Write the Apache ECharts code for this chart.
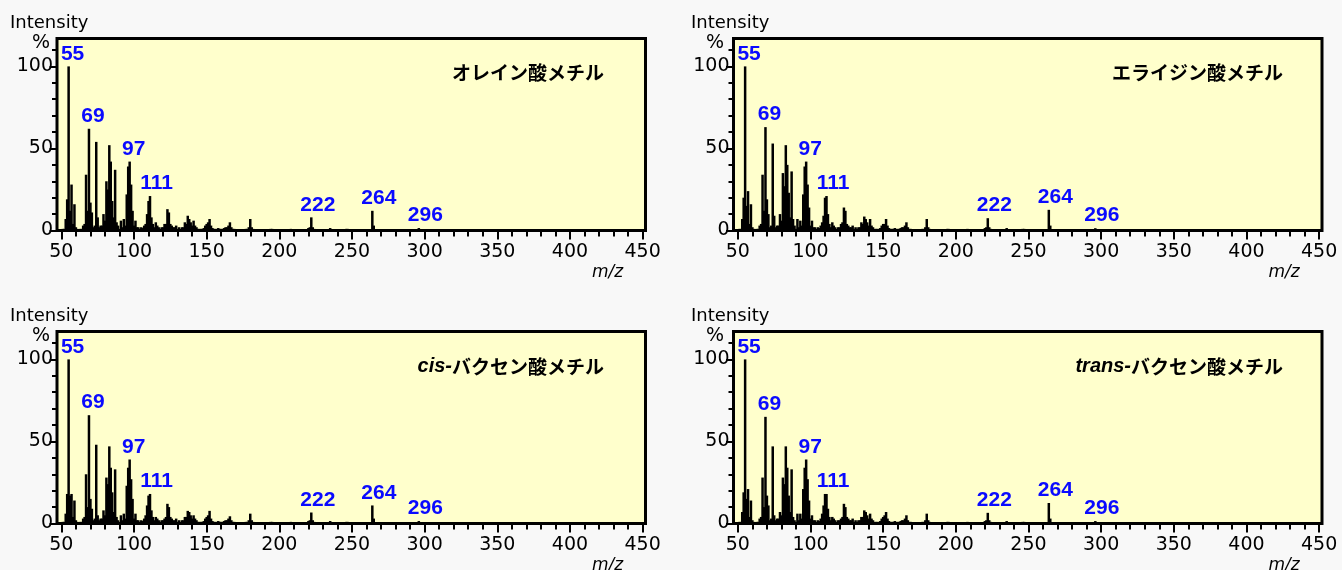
<!DOCTYPE html>
<html>
<head>
<meta charset="utf-8">
<title>脂肪酸メチル マススペクトル</title>
<script src="https://cdn.jsdelivr.net/npm/echarts@6/dist/echarts.min.js"></script>
<style>
  html, body { margin: 0; padding: 0; background: #f8f8f8; }
  #main { width: 1342px; height: 570px; }
</style>
</head>
<body>
<div id="main"></div>
<script>
// m/z of every stick (shared by the four spectra)
const mzList = [
  50, 51, 52, 53, 54, 55, 56, 57, 58, 59,
  60, 61, 62, 63, 64, 65, 66, 67, 68, 69,
  70, 71, 72, 73, 74, 75, 76, 77, 78, 79,
  80, 81, 82, 83, 84, 85, 86, 87, 88, 89,
  90, 91, 92, 93, 94, 95, 96, 97, 98, 99,
  100, 101, 102, 103, 104, 105, 106, 107, 108, 109,
  110, 111, 112, 113, 114, 115, 116, 117, 118, 119,
  120, 121, 122, 123, 124, 125, 126, 127, 128, 129,
  130, 131, 132, 133, 134, 135, 136, 137, 138, 139,
  140, 141, 142, 143, 144, 145, 146, 147, 148, 149,
  150, 151, 152, 153, 154, 155, 156, 157, 158, 159,
  160, 161, 162, 163, 164, 165, 166, 167, 168, 169,
  177, 178, 179, 180, 181, 182, 185, 191, 194, 195,
  198, 205, 208, 209, 213, 220, 221, 222, 223, 224,
  235, 236, 246, 247, 250, 264, 265, 266, 296, 297
];

// relative intensity (%)
const oleate = [
  0.5, 1, 1, 7, 19, 100, 12, 28, 4, 16,
  2, 1, 0.5, 1, 1, 3, 4, 34, 12, 62,
  17, 11, 2, 3, 54, 8, 2, 3, 3, 10,
  6, 30, 25, 52, 42, 18, 8, 37, 5, 3,
  1, 6, 2, 7, 3, 22, 39, 42, 28, 12,
  3, 6, 2, 2, 1, 2, 1.5, 3, 4, 10,
  18, 21, 8, 4, 2, 5, 3, 2, 1, 2,
  2, 4, 4, 13, 11, 4, 3, 2, 2, 3,
  1, 2, 1, 2, 2, 5, 4, 9, 7, 5,
  3, 6, 3, 2, 1, 1, 1, 1, 1.5, 3,
  4, 5, 7, 3, 1.5, 1, 1, 1, 1.5, 1,
  1, 1, 1.5, 2, 2, 3, 5, 2, 1, 1,
  1, 1, 2, 7, 2, 1, 0.5, 0.5, 1, 1,
  0.5, 0.5, 1, 0.5, 0.5, 1.5, 2, 8, 2, 1,
  1.5, 0.5, 1, 1, 0.5, 12, 3, 0.5, 1.5, 0.3
];
const elaidate = [
  0.5, 1, 1, 7, 20, 100, 15, 24, 4, 16,
  2, 1, 0.5, 1, 1, 3, 4, 34, 12, 63,
  19, 10, 2, 3, 53, 9, 2, 3, 3, 10,
  6, 35, 27, 52, 40, 23, 8, 36, 7, 3,
  1, 7, 2, 6, 3, 22, 39, 42, 28, 14,
  3, 6, 2, 2, 1, 2, 1.5, 3, 5, 9,
  20, 21, 10, 4, 2, 5, 3, 2, 1, 2,
  2, 4, 5, 14, 12, 4, 3, 2, 2, 3,
  1, 2, 1, 2, 2, 5, 4, 8.5, 7, 5,
  3, 7, 3, 2, 1, 1, 1, 1, 1.5, 3,
  4, 4, 7, 3, 1.5, 1, 1, 1, 1.5, 1,
  1, 1, 1.5, 2, 2, 3, 5, 2, 1, 1,
  1, 1, 2, 7, 2, 1, 0.5, 0.5, 1, 1,
  0.5, 0.5, 1, 0.5, 0.5, 1.5, 2, 7.5, 2, 1,
  1.5, 0.5, 1, 1, 0.5, 12.6, 3, 0.5, 1.4, 0.3
];
const cisVaccenate = [
  0.5, 1, 1, 6, 18, 100, 17, 18, 4, 14,
  2, 1, 0.5, 1, 1, 3, 4, 30, 10, 66,
  15, 9, 2, 3, 48, 5, 2, 3, 3, 8,
  5, 28, 24, 47, 34, 19, 7, 33, 4, 2,
  1, 5, 2, 6, 3, 23, 34, 39, 27, 15,
  3, 6, 2, 2, 1, 2, 1.5, 3, 5, 11,
  17, 18, 8, 4, 2, 4, 3, 2, 1, 2,
  2, 3, 4, 12, 10, 4, 3, 2, 2, 3,
  1, 2, 1, 2, 2, 4, 4, 7.7, 7, 5,
  3, 5, 3, 2, 1, 1, 1, 1, 1.5, 3,
  4, 5, 7.7, 3, 1.5, 1, 1, 1, 1.5, 1,
  1, 1, 1.5, 2, 2, 3, 4.4, 2, 1, 1,
  1, 1, 2, 6, 2, 1, 0.5, 0.5, 1, 1,
  0.5, 0.5, 1, 0.5, 0.5, 1.5, 2, 6.7, 2, 1,
  1.5, 0.5, 1, 1, 0.5, 11, 3, 0.5, 1.5, 0.3
];
const transVaccenate = [
  0.5, 1, 1, 7, 19, 100, 15, 21, 4, 14,
  2, 1, 0.5, 1, 1, 3, 4, 28, 10, 65,
  17, 11, 2, 3, 47, 5, 2, 3, 3, 7,
  5, 28, 24, 47, 34, 17, 7, 33, 4, 2,
  1, 6, 2, 6, 3, 21, 34, 39, 27, 14,
  3, 5, 2, 2, 1, 2, 1.5, 3, 6, 11,
  18, 18, 9, 4, 2, 4, 3, 2, 1, 2,
  2, 3, 4, 12, 10, 4, 3, 2, 2, 3,
  1, 2, 1, 2, 2, 4, 4, 8, 7, 5,
  3, 6, 3, 2, 1, 1, 1, 1, 1.5, 3,
  4, 5, 7, 3, 1.5, 1, 1, 1, 1.5, 1,
  1, 1, 1.5, 2, 2, 3, 5, 2, 1, 1,
  1, 1, 2, 6, 2, 1, 0.5, 0.5, 1, 1,
  0.5, 0.5, 1, 0.5, 0.5, 1.5, 2, 6.5, 2, 1,
  1.5, 0.5, 1, 1, 0.5, 12.5, 3, 0.5, 1.5, 0.3
];

const labelledMz = [55, 69, 97, 111, 222, 264, 296];
const compoundNames = ['オレイン酸メチル', 'エライジン酸メチル', '{i|cis-}バクセン酸メチル', '{i|trans-}バクセン酸メチル'];
const xTickLabels = [50, 100, 150, 200, 250, 300, 350, 400, 450];
const yTickLabels = [0, 50, 100];

const spectra = [oleate, elaidate, cisVaccenate, transVaccenate];

const xMinor = [];
for (let v = 60; v < 450; v += 10) if (v % 50) xMinor.push(v);
const yMinor = [10, 20, 30, 40, 60, 70, 80, 90, 110];

// panel boxes
const panels = [
  {left: 57, top: 38.5},
  {left: 733.5, top: 38.5},
  {left: 57, top: 331.5},
  {left: 733.5, top: 331.5}
];
const boxW = 588.5, boxH = 192;
const intensityX = [10, 691, 10, 691];
const percentX = [41, 715, 41, 715];
const titleRight = [604, 1283, 604, 1283];

const axisFont = 'DejaVu Sans';
const chart = echarts.init(document.getElementById('main'));

const grid = [], xAxis = [], yAxis = [], series = [], title = [], graphic = [];

panels.forEach((p, k) => {
  grid.push({
    left: p.left, top: p.top, width: boxW, height: boxH,
    show: true, backgroundColor: '#ffffcc', borderColor: '#000', borderWidth: 3
  });
  // major x ticks + labels
  xAxis.push({
    type: 'value', gridIndex: k, position: 'bottom', min: 47, max: 452,
    axisLine: {show: false}, splitLine: {show: false},
    axisTick: {show: true, length: 9, customValues: xTickLabels, lineStyle: {color: '#000', width: 2}},
    axisLabel: {customValues: xTickLabels, margin: 12, color: '#000', fontFamily: axisFont, fontSize: 19}
  });
  // minor x ticks
  xAxis.push({
    type: 'value', gridIndex: k, position: 'bottom', min: 47, max: 452,
    axisLine: {show: false}, splitLine: {show: false}, axisLabel: {show: false},
    axisTick: {show: true, length: 6, customValues: xMinor, lineStyle: {color: '#000', width: 2}}
  });
  yAxis.push({
    type: 'value', gridIndex: k, position: 'left', min: 0, max: 117,
    axisLine: {show: false}, splitLine: {show: false},
    axisTick: {show: true, length: 7.5, customValues: yTickLabels, lineStyle: {color: '#000', width: 2}},
    axisLabel: {customValues: yTickLabels, margin: 4, color: '#000', fontFamily: axisFont, fontSize: 19}
  });
  yAxis.push({
    type: 'value', gridIndex: k, position: 'left', min: 0, max: 117,
    axisLine: {show: false}, splitLine: {show: false}, axisLabel: {show: false},
    axisTick: {show: true, length: 5, customValues: yMinor, lineStyle: {color: '#000', width: 2}}
  });

  const vals = spectra[k];
  series.push({
    type: 'bar',
    xAxisIndex: k * 2,
    yAxisIndex: k * 2,
    barWidth: 2.5,
    silent: true,
    itemStyle: {color: '#000'},
    label: {
      show: false, position: 'top', distance: 2,
      color: '#0a0aff', fontFamily: 'Liberation Sans', fontWeight: 'bold', fontSize: 21,
      formatter: (d) => d.value[0]
    },
    data: mzList.map((m, i) => labelledMz.includes(m)
      ? {value: [m, vals[i]], label: {show: true, offset: [m > 99 ? 6.5 : 4, 0]}}
      : [m, vals[i]])
  });

  title.push({
    text: compoundNames[k],
    right: 1342 - titleRight[k],
    top: p.top + 25,
    padding: 0,
    textStyle: {
      fontFamily: 'Noto Sans CJK JP', fontWeight: 'bold', fontSize: 19, color: '#000',
      rich: {i: {fontFamily: 'Liberation Sans', fontStyle: 'italic', fontWeight: 'bold', fontSize: 20, color: '#000'}}
    }
  });

  graphic.push({
    type: 'text', x: intensityX[k], y: p.top - 15.5,
    style: {text: 'Intensity', font: '18px "DejaVu Sans"', fill: '#000', textAlign: 'left', textVerticalAlign: 'middle'}
  });
  graphic.push({
    type: 'text', x: percentX[k], y: p.top + 5,
    style: {text: '%', font: '19px "DejaVu Sans"', fill: '#000', textAlign: 'center', textVerticalAlign: 'middle'}
  });
  graphic.push({
    type: 'text', x: p.left + boxW - 38, y: p.top + 234.5,
    style: {text: 'm/z', font: 'italic 17px "DejaVu Sans"', fill: '#000', textAlign: 'center', textVerticalAlign: 'middle'}
  });
});

chart.setOption({
  backgroundColor: '#f8f8f8',
  animation: false,
  title: title,
  grid: grid,
  xAxis: xAxis,
  yAxis: yAxis,
  series: series,
  graphic: graphic
});
</script>
</body>
</html>
